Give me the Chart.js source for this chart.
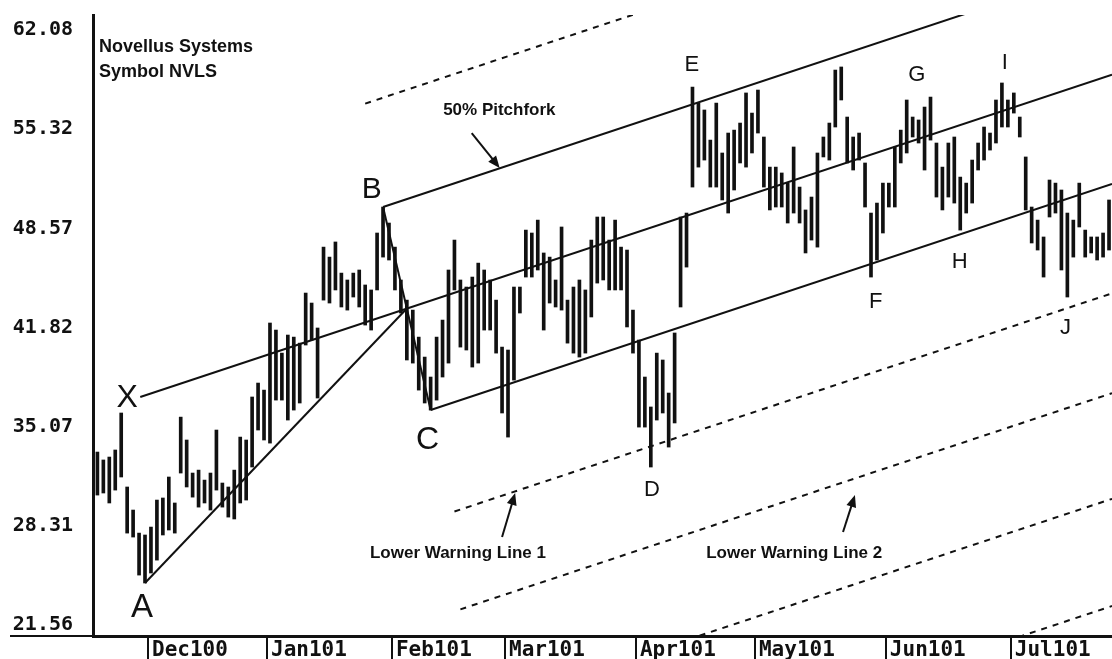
<!DOCTYPE html>
<html>
<head>
<meta charset="utf-8">
<script src="https://cdn.jsdelivr.net/npm/chart.js@4.4.1/dist/chart.umd.min.js"></script>
<style>
  html, body { margin: 0; padding: 0; background: #fff; }
  #wrap { width: 1112px; height: 659px; position: relative; }
</style>
</head>
<body>
<div id="wrap"><canvas id="c"></canvas></div>
<script>
// Novellus Systems (NVLS) daily bars, trading day index 0 = Nov 17 2000
const highs = [
  33.33, 32.79, 32.99, 33.47, 35.99, 30.95, 29.38, 27.81, 27.68, 28.22,
  30.06, 30.20, 31.63, 29.86, 35.71, 34.15, 31.90, 32.10, 31.42, 31.90,
  34.83, 31.22, 30.95, 32.10, 34.35, 34.15, 37.08, 38.03, 37.55, 42.12,
  41.64, 40.07, 41.30, 41.16, 40.75, 44.16, 43.48, 41.78, 47.29, 46.61,
  47.64, 45.52, 45.05, 45.52, 45.73, 44.71, 44.37, 48.25, 50.02, 48.93,
  47.29, 45.05, 43.68, 43.00, 41.16, 39.80, 38.44, 41.16, 42.32, 45.73,
  47.77, 45.05, 44.57, 45.25, 46.20, 45.73, 45.05, 43.68, 40.48, 40.28,
  44.57, 44.57, 48.45, 48.25, 49.13, 46.89, 46.61, 45.05, 48.66, 43.68,
  44.57, 45.05, 44.37, 47.77, 49.34, 49.34, 47.77, 49.13, 47.29, 47.09,
  43.00, 40.96, 38.44, 36.40, 40.07, 39.60, 37.35, 41.44, 49.34, 49.61,
  58.19, 57.10, 56.63, 54.58, 57.10, 53.70, 55.06, 55.26, 55.74, 57.79,
  56.42, 57.99, 54.79, 52.74, 52.74, 52.34, 51.65, 54.11, 51.38, 49.82,
  50.70, 53.70, 54.79, 55.74, 59.35, 59.56, 56.15, 54.79, 55.06, 53.02,
  49.61, 50.29, 51.65, 51.65, 54.11, 55.26, 57.31, 56.15, 55.95, 56.83,
  57.51, 54.38, 52.74, 54.38, 54.79, 52.06, 51.65, 53.22, 54.38, 55.47,
  55.06, 57.31, 58.47, 57.31, 57.79, 56.15, 53.43, 50.02, 49.13, 47.98,
  51.86, 51.65, 51.18, 49.61, 49.13, 51.65, 48.45, 47.98, 47.98, 48.25,
  50.50
];
const lows = [
  30.40, 30.54, 29.86, 30.74, 31.63, 27.81, 27.54, 24.95, 24.41, 25.09,
  25.97, 27.68, 28.02, 27.81, 31.90, 30.95, 30.26, 29.58, 29.86, 29.38,
  30.74, 29.58, 28.90, 28.77, 29.86, 30.06, 32.31, 34.83, 34.15, 33.94,
  36.87, 36.87, 35.51, 36.19, 36.67, 40.62, 40.96, 37.01, 43.68, 43.48,
  44.37, 43.21, 43.00, 43.89, 43.21, 41.98, 41.64, 44.37, 46.61, 46.41,
  44.37, 42.80, 39.60, 39.39, 37.55, 36.67, 36.19, 36.87, 38.44, 39.39,
  44.37, 40.48, 40.28, 39.12, 39.39, 41.64, 41.64, 40.07, 35.99, 34.35,
  38.23, 42.80, 45.25, 45.25, 45.73, 41.64, 43.48, 43.21, 43.00, 40.75,
  40.07, 39.80, 40.07, 42.53, 44.84, 45.05, 44.37, 44.37, 44.37, 41.85,
  40.07, 35.03, 35.03, 32.31, 35.51, 35.99, 33.67, 35.31, 43.21, 45.93,
  51.38, 52.74, 53.22, 51.38, 51.38, 50.50, 49.61, 51.18, 53.02, 52.74,
  53.70, 55.06, 51.38, 49.82, 50.02, 50.02, 48.93, 49.61, 48.93, 46.89,
  47.77, 47.29, 53.43, 53.22, 55.47, 57.31, 53.02, 52.54, 53.22, 50.02,
  45.25, 46.41, 48.25, 50.02, 50.02, 53.02, 53.70, 54.79, 54.38, 52.54,
  54.58, 50.70, 49.82, 50.70, 50.29, 48.45, 49.61, 50.29, 52.54, 53.22,
  53.90, 54.38, 55.47, 55.47, 56.42, 54.79, 49.82, 47.57, 47.09, 45.25,
  49.34, 49.61, 45.73, 43.89, 46.61, 48.66, 46.61, 46.89, 46.41, 46.61,
  47.09
];

// month boundaries (day index) and their labels
const monthStarts = [8.5, 28.5, 49.5, 68.5, 90.5, 110.5, 132.5, 153.5];
const monthLabels = ['Dec100', 'Jan101', 'Feb101', 'Mar101', 'Apr101', 'May101', 'Jun101', 'Jul101'];
const priceTicks = [21.56, 28.31, 35.07, 41.82, 48.57, 55.32, 62.08];

// pitchfork pivots: [day index, price]
const pivotX = [7.2, 37.08];
const pivotA = [8, 24.41];
const pivotB = [48, 50.02];
const pivotC = [56, 36.19];
// warning lines: price offset from the median line, and first day drawn
const warnOffsets = [14.9, -14.9, -21.7, -28.9, -36.2];
const warnStarts = [45, 60, 61, 61, 61];

const X_MIN = -0.74, X_MAX = 170.5;

// ---- pitchfork geometry ----
const mid = [(pivotB[0] + pivotC[0]) / 2, (pivotB[1] + pivotC[1]) / 2];
const slope = (mid[1] - pivotX[1]) / (mid[0] - pivotX[0]);
const along = (p0, i) => p0[1] + slope * (i - p0[0]);
const seg = (a, b) => [{ x: a[0], y: a[1] }, { x: b[0], y: b[1] }];

const INK = '#111';
const lineDs = (data, dash) => ({
  type: 'line', data, borderColor: INK, borderWidth: 2, borderDash: dash || [],
  pointRadius: 0, tension: 0, order: 1,
});

const datasets = [
  {
    type: 'bar',
    data: lows.map((lo, k) => ({ x: k, y: [lo, highs[k]] })),
    backgroundColor: INK, barThickness: 3, order: 2,
  },
  lineDs(seg(pivotX, [X_MAX, along(pivotX, X_MAX)])),      // median line
  lineDs(seg(pivotA, mid)),                                  // A to B-C midpoint
  lineDs(seg(pivotB, pivotC)),                               // B-C
  lineDs(seg(pivotB, [X_MAX, along(pivotB, X_MAX)])),        // upper tine
  lineDs(seg(pivotC, [X_MAX, along(pivotC, X_MAX)])),        // lower tine
];
warnOffsets.forEach((off, k) => {
  const s = warnStarts[k];
  const p0 = [mid[0], mid[1] + off];
  datasets.push(lineDs(seg([s, along(p0, s)], [X_MAX, along(p0, X_MAX)]), [6, 6]));
});

// ---- annotations (day index, price) ----
const letters = [
  ['X', 5.0, 37.0, 32], ['A', 7.5, 22.7, 33], ['B', 46.1, 51.2, 30], ['C', 55.5, 34.15, 32],
  ['D', 93.2, 30.74, 22], ['E', 99.9, 59.7, 22], ['F', 130.8, 43.55, 22], ['G', 137.7, 59.0, 22],
  ['H', 144.9, 46.27, 22], ['I', 152.5, 59.83, 22], ['J', 162.7, 41.78, 22],
];
const captions = [
  ['Novellus Systems', 0.27, 60.92, 18], ['Symbol NVLS', 0.27, 59.22, 18],
  ['50% Pitchfork', 58.1, 56.63, 17],
  ['Lower Warning Line 1', 45.8, 26.45, 17], ['Lower Warning Line 2', 102.3, 26.45, 17],
];
const arrows = [
  [62.9, 55.06, 67.6, 52.68], [68.0, 27.54, 70.2, 30.54], [125.3, 27.88, 127.3, 30.40],
];

const annotate = {
  id: 'annotate',
  beforeDraw(chart) {
    const ctx = chart.ctx;
    ctx.save();
    ctx.fillStyle = '#fff';
    ctx.fillRect(0, 0, chart.width, chart.height);
    ctx.restore();
  },
  afterDraw(chart) {
    const { ctx, scales: { x, y }, chartArea } = chart;
    ctx.save();
    ctx.fillStyle = INK;
    ctx.strokeStyle = INK;
    // axis line carried left under the price labels
    ctx.lineWidth = 2;
    ctx.beginPath();
    ctx.moveTo(10, chartArea.bottom);
    ctx.lineTo(chartArea.left, chartArea.bottom);
    ctx.stroke();

    ctx.textAlign = 'center';
    ctx.textBaseline = 'middle';
    letters.forEach(([t, i, p, s]) => {
      ctx.font = s + 'px "Liberation Sans", Arial, sans-serif';
      ctx.fillText(t, x.getPixelForValue(i), y.getPixelForValue(p));
    });
    ctx.textAlign = 'left';
    captions.forEach(([t, i, p, s]) => {
      ctx.font = 'bold ' + s + 'px "Liberation Sans", Arial, sans-serif';
      ctx.fillText(t, x.getPixelForValue(i), y.getPixelForValue(p));
    });
    arrows.forEach(([i0, p0, i1, p1]) => {
      const x0 = x.getPixelForValue(i0), y0 = y.getPixelForValue(p0);
      const x1 = x.getPixelForValue(i1), y1 = y.getPixelForValue(p1);
      const a = Math.atan2(y1 - y0, x1 - x0);
      ctx.lineWidth = 2;
      ctx.beginPath();
      ctx.moveTo(x0, y0);
      ctx.lineTo(x1 - 8 * Math.cos(a), y1 - 8 * Math.sin(a));
      ctx.stroke();
      ctx.beginPath();
      ctx.moveTo(x1, y1);
      ctx.lineTo(x1 - 12 * Math.cos(a) + 5 * Math.sin(a), y1 - 12 * Math.sin(a) - 5 * Math.cos(a));
      ctx.lineTo(x1 - 12 * Math.cos(a) - 5 * Math.sin(a), y1 - 12 * Math.sin(a) + 5 * Math.cos(a));
      ctx.closePath();
      ctx.fill();
    });
    ctx.restore();
  },
};

const monoFont = { family: '"DejaVu Sans Mono", monospace', size: 20, weight: 'bold' };

new Chart(document.getElementById('c'), {
  type: 'bar',
  data: { datasets },
  options: {
    responsive: true,
    maintainAspectRatio: false,
    animation: false,
    layout: { padding: { top: 15, left: 0, right: 0, bottom: 0 } },
    plugins: { legend: { display: false }, tooltip: { enabled: false } },
    scales: {
      x: {
        type: 'linear', min: X_MIN, max: X_MAX, offset: false,
        afterBuildTicks: s => { s.ticks = monthStarts.map(v => ({ value: v })); },
        afterFit: s => { s.height = 23; s.paddingLeft = 0; s.paddingRight = 0; },
        grid: { offset: false, drawOnChartArea: false, drawTicks: true, tickLength: 23, color: INK, lineWidth: 2 },
        border: { display: true, color: INK, width: 3 },
        ticks: {
          autoSkip: false, maxRotation: 0, align: 'start', labelOffset: 4, padding: -21,
          color: INK, font: { ...monoFont, size: 21 }, callback: (v, k) => monthLabels[k],
        },
      },
      y: {
        min: 20.8, max: 63.1,
        afterBuildTicks: s => { s.ticks = priceTicks.map(v => ({ value: v })); },
        afterFit: s => { s.width = 93; s.paddingTop = 0; s.paddingBottom = 0; },
        grid: { display: false, drawTicks: false },
        border: { display: true, color: INK, width: 3 },
        ticks: { padding: 20, color: INK, font: monoFont, callback: v => v.toFixed(2) },
      },
    },
  },
  plugins: [annotate],
});
</script>
</body>
</html>
